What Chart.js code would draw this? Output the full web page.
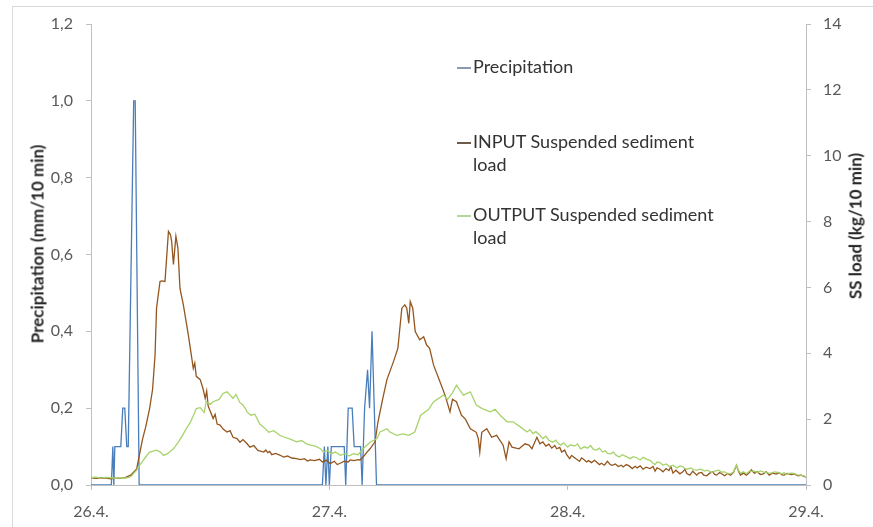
<!DOCTYPE html>
<html>
<head>
<meta charset="utf-8">
<script src="https://cdn.jsdelivr.net/npm/chart.js@4.4.1/dist/chart.umd.min.js"></script>
<style>
    body { margin: 0; background: #fff; font-family: Lato, 'Open Sans', sans-serif; }
    #wrap { position: relative; width: 873px; height: 527px; overflow: hidden; }
    #frame { position: absolute; left: 12px; top: 6px; width: 900px; height: 560px; border: 1px solid #d9d9d9; }
    canvas { position: absolute; left: 0; top: 0; }
    .axis-title { position: absolute; font-weight: bold; font-size: 17px; color: #262626; white-space: nowrap;
        transform: translate(-50%, -50%) rotate(-90deg); }
    .legend-item { position: absolute; left: 457px; font-size: 18px; line-height: 23px; color: #333; }
    .legend-item .mark { position: absolute; left: 0; top: 12px; width: 14px; height: 1.5px; }
    .legend-item .text { margin-left: 16px; }
</style>
</head>
<body>
<div id="wrap">
    <div id="frame"></div>
    <canvas id="sedimentChart" width="873" height="527"></canvas>
    <div class="axis-title" style="left:37px; top:244px;">Precipitation (mm/10 min)</div>
    <div class="axis-title" style="left:855px; top:226px;">SS load (kg/10 min)</div>
    <div class="legend-item" style="top:55px;"><span class="mark" style="background:#8a9ab0"></span><div class="text">Precipitation</div></div>
    <div class="legend-item" style="top:130px;"><span class="mark" style="background:#6e5a48"></span><div class="text">INPUT Suspended sediment<br>load</div></div>
    <div class="legend-item" style="top:203px;"><span class="mark" style="background:#b9d79a"></span><div class="text">OUTPUT Suspended sediment<br>load</div></div>
</div>
<script>
// x values are hours from 26.4. 00:00
const dayLabels = ['26.4.', '27.4.', '28.4.', '29.4.'];

const rainHours = [0, 2.05, 2.2, 2.3, 2.4, 3.0, 3.2, 3.4, 3.6, 3.75, 4.3, 4.45, 4.85,
    23.3, 23.5, 23.65, 23.85, 24.0, 24.2, 25.5, 25.65, 25.9, 26.3, 26.5, 27.15, 27.3,
    27.55, 27.85, 28.05, 28.3, 28.75, 72];
const rainValues = [0, 0, 0.1, 0, 0.1, 0.1, 0.2, 0.2, 0.1, 0.1, 1.0, 1.0, 0,
    0, 0.1, 0, 0.1, 0, 0.1, 0.1, 0, 0.2, 0.2, 0.1, 0.1, 0,
    0.2, 0.3, 0.2, 0.4, 0, 0];

const inputHours = [0, 0.5, 1.0, 1.5, 2.0, 2.5, 3.0, 3.5, 4.0, 4.6, 5.2, 5.5, 5.9, 6.2, 6.45, 6.6,
    6.95, 7.1, 7.45, 7.8, 8.0, 8.12, 8.3, 8.55, 8.75, 8.96, 9.3, 9.8, 10.3, 10.45, 10.6,
    11.0, 11.3, 11.5, 11.65, 11.8, 12.3, 12.5, 12.7, 13.0, 13.3, 13.7, 14.0, 14.3, 14.7,
    15.0, 15.3, 15.7, 16.0, 16.4, 16.8, 17.4, 17.6, 17.8, 18.0, 18.2, 18.6, 19.0, 19.4,
    19.8, 20.2, 20.7, 21.1, 21.5, 21.8, 22.1, 22.5, 23.0, 23.3, 23.7, 24.1, 24.5, 24.8,
    25.1, 25.5, 25.9, 26.1, 26.5, 26.9, 27.1, 27.4, 27.8, 28.1, 28.6, 28.9, 29.4, 29.8,
    30.45, 30.9, 31.3, 31.6, 31.8, 32.0, 32.15, 32.4, 32.65, 33.1, 33.5, 33.8, 34.1, 34.5,
    35.15, 35.65, 36.15, 36.4, 36.8, 37.3, 37.7, 38.2, 38.8, 39.0, 39.15, 39.35, 39.85,
    40.35, 40.85, 41.5, 41.8, 42.1, 42.4, 43.1, 43.7, 44.1, 44.4, 44.9, 45.2, 45.5, 45.8,
    46.1, 46.4, 46.7, 46.9, 47.2, 47.4, 47.7, 47.9, 48.2, 48.4, 48.6, 48.9, 49.2, 49.4,
    49.6, 49.9, 50.1, 50.4, 50.7, 50.9, 51.2, 51.4, 51.7, 52.0, 52.3, 52.5, 52.8, 53.1,
    53.4, 53.6, 53.9, 54.2, 54.5, 54.8, 55.0, 55.3, 55.6, 55.9, 56.3, 56.6, 56.8, 57.0,
    57.3, 57.6, 57.9, 58.2, 58.4, 58.6, 58.9, 59.3, 59.6, 59.8, 60.0, 60.3, 60.6, 61.0,
    61.2, 61.5, 61.7, 62.0, 62.3, 62.6, 62.8, 63.0, 63.3, 63.5, 63.8, 64.1, 64.4, 64.7,
    65.0, 65.2, 65.4, 65.7, 66.0, 66.3, 66.5, 66.8, 67.1, 67.4, 67.7, 68.0, 68.3, 68.6,
    69.0, 69.3, 69.6, 69.8, 70.1, 70.5, 70.8, 71.2, 71.5, 71.8, 72.0];
const inputLoad = [0.22, 0.20, 0.22, 0.21, 0.19, 0.21, 0.20, 0.23, 0.30, 0.49, 1.41, 1.75, 2.32, 2.9, 3.95, 5.37,
    6.18, 6.2, 6.18, 7.7, 7.6, 7.4, 6.7, 7.55, 7.2, 5.97, 5.47, 4.56, 3.54, 3.7, 3.3,
    3.2, 2.9, 2.63, 2.85, 2.4, 2.02, 2.15, 1.85, 1.82, 1.7, 1.61, 1.65, 1.45, 1.41,
    1.3, 1.38, 1.26, 1.15, 1.2, 1.05, 1.0, 1.06, 0.98, 1.02, 0.92, 0.96, 0.91, 0.85,
    0.88, 0.82, 0.80, 0.77, 0.80, 0.73, 0.76, 0.74, 0.78, 0.70, 0.75, 0.65, 0.72, 0.62,
    0.66, 0.72, 0.70, 0.76, 0.74, 0.77, 0.76, 0.85, 1.0, 1.10, 1.31, 1.92, 2.65, 3.2,
    3.74, 4.15, 5.37, 5.47, 5.37, 4.91, 5.57, 5.37, 4.66, 4.41, 4.5, 4.25, 4.15, 3.64,
    3.13, 2.73, 2.22, 2.6, 2.53, 2.12, 2.0, 1.71, 1.6, 1.41, 1.0, 1.6, 1.71,
    1.45, 1.51, 1.21, 0.80, 1.31, 1.15, 1.10, 1.25, 1.21, 1.10, 1.45, 1.25, 1.31, 1.18,
    1.24, 1.12, 1.2, 1.10, 1.14, 1.0, 1.06, 0.92, 0.80, 0.9, 0.85, 0.78, 0.72, 0.82,
    0.78, 0.7, 0.74, 0.68, 0.75, 0.70, 0.62, 0.66, 0.6, 0.72, 0.62, 0.60, 0.64, 0.56,
    0.6, 0.55, 0.62, 0.58, 0.5, 0.57, 0.52, 0.58, 0.48, 0.54, 0.50, 0.56, 0.42, 0.52,
    0.48, 0.40, 0.5, 0.44, 0.56, 0.36, 0.45, 0.34, 0.40, 0.48, 0.35, 0.30, 0.42, 0.30,
    0.36, 0.38, 0.30, 0.28, 0.36, 0.40, 0.32, 0.30, 0.38, 0.34, 0.28, 0.35, 0.30, 0.38,
    0.60, 0.42, 0.30, 0.36, 0.30, 0.38, 0.46, 0.36, 0.40, 0.32, 0.34, 0.40, 0.30, 0.36,
    0.33, 0.37, 0.31, 0.30, 0.35, 0.32, 0.34, 0.28, 0.30, 0.26, 0.24];

const outputHours = [0, 0.5, 1.0, 1.5, 2.0, 2.5, 3.0, 3.5, 4.0, 4.6, 4.9, 5.5, 5.9, 6.6, 7.0, 7.3,
    7.7, 8.3, 8.8, 9.2, 9.6, 10.0, 10.3, 10.6, 11.0, 11.4, 11.6, 12.0, 12.3, 12.9, 13.3,
    13.7, 14.1, 14.3, 14.6, 15.0, 15.3, 15.6, 15.7, 16.1, 16.5, 17.0, 17.4, 17.9, 18.4,
    19.0, 19.5, 20.0, 20.7, 21.2, 21.7, 22.1, 22.6, 23.1, 23.4, 23.8, 24.2, 24.6, 25.1,
    25.6, 26.0, 26.4, 26.9, 27.4, 28.1, 28.8, 29.1, 29.8, 30.1, 30.8, 31.4, 32.0, 32.6,
    33.2, 34.0, 34.5, 35.5, 35.9, 36.4, 36.8, 37.5, 38.2, 38.8, 39.4, 40.2, 40.7, 41.2,
    41.9, 42.5, 43.3, 43.9, 44.2, 44.5, 44.8, 45.2, 45.5, 45.8, 46.1, 46.5, 46.8, 47.1,
    47.3, 47.6, 48.0, 48.3, 48.7, 49.0, 49.3, 49.7, 50.0, 50.3, 50.6, 50.9, 51.2, 51.5,
    51.8, 52.0, 52.3, 52.6, 52.9, 53.2, 53.5, 53.9, 54.3, 54.6, 55.0, 55.3, 55.6, 56.0,
    56.3, 56.6, 56.8, 57.0, 57.3, 57.6, 57.9, 58.3, 58.6, 59.0, 59.3, 59.6, 59.8, 60.0,
    60.4, 60.7, 61.0, 61.4, 61.8, 62.1, 62.5, 62.8, 63.2, 63.5, 63.8, 64.0, 64.4, 64.7,
    65.0, 65.2, 65.4, 65.7, 66.0, 66.3, 66.8, 67.1, 67.4, 67.7, 68.1, 68.5, 68.8, 69.2,
    69.5, 69.8, 70.0, 70.4, 70.8, 71.1, 71.5, 71.8, 72.0];
const outputLoad = [0.22, 0.24, 0.21, 0.23, 0.22, 0.20, 0.22, 0.21, 0.25, 0.45, 0.60, 0.85, 1.0, 1.06, 1.0, 0.90,
    0.95, 1.10, 1.3, 1.5, 1.71, 1.9, 2.1, 2.32, 2.35, 2.2, 2.53, 2.45, 2.53, 2.6, 2.78,
    2.83, 2.7, 2.63, 2.75, 2.5, 2.43, 2.3, 2.22, 2.12, 2.15, 1.85, 1.75, 1.6, 1.65,
    1.51, 1.45, 1.4, 1.31, 1.35, 1.25, 1.21, 1.18, 1.1, 1.0, 1.05, 0.95, 1.0, 0.90,
    0.95, 0.88, 0.95, 0.92, 1.10, 1.30, 1.41, 1.61, 1.71, 1.61, 1.51, 1.55, 1.51, 1.61,
    2.12, 2.3, 2.53, 2.73, 2.6, 2.8, 3.03, 2.73, 2.83, 2.43, 2.32, 2.22, 2.3, 2.12,
    1.92, 1.92, 1.75, 1.61, 1.68, 1.56, 1.62, 1.51, 1.41, 1.48, 1.36, 1.3, 1.36, 1.25,
    1.21, 1.28, 1.15, 1.22, 1.18, 1.25, 1.1, 1.16, 1.12, 1.2, 1.08, 1.06, 1.12, 1.0,
    1.04, 0.96, 0.95, 1.0, 0.9, 0.85, 0.92, 0.86, 0.80, 0.86, 0.82, 0.76, 0.84, 0.78,
    0.75, 0.66, 0.62, 0.7, 0.68, 0.6, 0.64, 0.55, 0.6, 0.52, 0.58, 0.56, 0.5, 0.48,
    0.52, 0.46, 0.45, 0.48, 0.42, 0.45, 0.38, 0.42, 0.45, 0.39, 0.40, 0.36, 0.34, 0.40,
    0.60, 0.44, 0.36, 0.40, 0.34, 0.42, 0.42, 0.38, 0.43, 0.40, 0.37, 0.36, 0.40, 0.38,
    0.34, 0.37, 0.32, 0.36, 0.35, 0.31, 0.30, 0.28, 0.24];

function toPoints(xs, ys) {
    return xs.map((x, i) => ({ x: x, y: ys[i] }));
}

const tickFont = { family: 'Lato', size: 16 };
const axisColor = '#bfbfbf';

new Chart(document.getElementById('sedimentChart'), {
    type: 'line',
    data: {
        datasets: [
            {
                label: 'Precipitation',
                data: toPoints(rainHours, rainValues),
                yAxisID: 'y',
                borderColor: '#4a7ebb',
                borderWidth: 1.3,
                order: 3
            },
            {
                label: 'INPUT Suspended sediment load',
                data: toPoints(inputHours, inputLoad),
                yAxisID: 'y2',
                borderColor: '#94561f',
                borderWidth: 1.3,
                order: 2
            },
            {
                label: 'OUTPUT Suspended sediment load',
                data: toPoints(outputHours, outputLoad),
                yAxisID: 'y2',
                borderColor: '#a6d36b',
                borderWidth: 1.3,
                order: 1
            }
        ]
    },
    options: {
        responsive: false,
        animation: false,
        elements: { point: { radius: 0 }, line: { tension: 0 } },
        layout: { padding: { top: 24, left: 0, right: 0, bottom: 0 } },
        plugins: { legend: { display: false }, tooltip: { enabled: false } },
        scales: {
            x: {
                type: 'linear',
                min: 0,
                max: 72,
                ticks: {
                    stepSize: 24,
                    maxRotation: 0,
                    padding: 12,
                    font: tickFont,
                    color: '#595959',
                    callback: function (value) {
                        return dayLabels[value / 24];
                    }
                },
                grid: { drawOnChartArea: false, tickLength: 5, color: axisColor },
                border: { color: axisColor },
                afterFit: function (scale) { scale.height = 527 - 485; }
            },
            y: {
                position: 'left',
                min: 0,
                max: 1.2,
                ticks: {
                    stepSize: 0.2,
                    padding: 13,
                    font: tickFont,
                    color: '#595959',
                    callback: function (value) {
                        return value.toFixed(1).replace('.', ',');
                    }
                },
                grid: { drawOnChartArea: false, tickLength: 5, color: axisColor },
                border: { color: axisColor },
                afterFit: function (scale) { scale.width = 91; }
            },
            y2: {
                position: 'right',
                min: 0,
                max: 14,
                ticks: { stepSize: 2, padding: 12, font: tickFont, color: '#595959' },
                grid: { drawOnChartArea: false, tickLength: 5, color: axisColor },
                border: { color: axisColor },
                afterFit: function (scale) { scale.width = 873 - 806; }
            }
        }
    }
});
</script>
</body>
</html>
